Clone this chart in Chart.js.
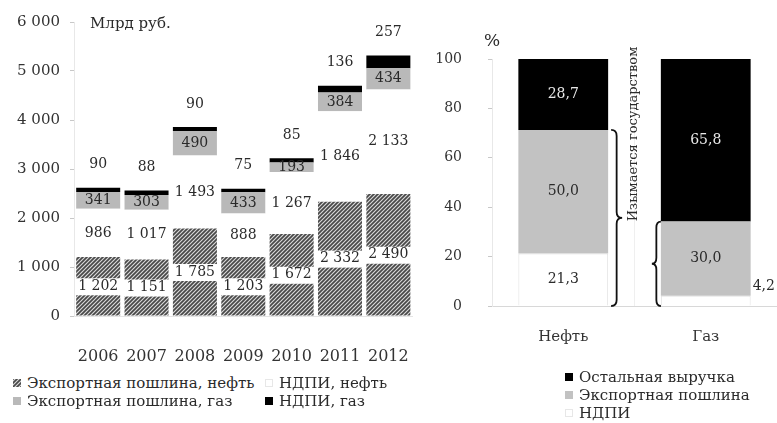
<!DOCTYPE html>
<html lang="ru">
<head>
<meta charset="utf-8">
<script src="https://cdn.jsdelivr.net/npm/chart.js@4.4.0/dist/chart.umd.min.js"></script>
<style>
  html, body { margin: 0; padding: 0; background: #fff; }
  body { width: 777px; height: 423px; position: relative; overflow: hidden;
         font-family: "DejaVu Serif", serif; color: #2a2a2a; }
  #c1, #c2 { position: absolute; display: block; }
  #c1 { left: 0; top: 0; }
  #c2 { left: 430px; top: 0; }
  .legend { position: absolute; left: 0; top: 0; font-size: 15px; line-height: 18px; white-space: nowrap; }
  .item { position: absolute; height: 18px; display: flex; align-items: center; }
  .sw { display: block; width: 8px; height: 8px; margin-right: 6px; flex: none; }
</style>
</head>
<body>
<canvas id="c1" width="432" height="366"></canvas>
<canvas id="c2" width="347" height="350"></canvas>
<div id="leg1" class="legend"></div>
<div id="leg2" class="legend"></div>
<script>
// Доходы от экспорта нефти и газа, млрд руб.
const years      = ['2006', '2007', '2008', '2009', '2010', '2011', '2012'];
const exportOil  = [1202, 1151, 1785, 1203, 1672, 2332, 2490];
const ndpiOil    = [986, 1017, 1493, 888, 1267, 1846, 2133];
const exportGas  = [341, 303, 490, 433, 193, 384, 434];
const ndpiGas    = [90, 88, 90, 75, 85, 136, 257];
const leftTicks  = [0, 1000, 2000, 3000, 4000, 5000, 6000];

// Структура выручки, %
const products    = ['Нефть', 'Газ'];
const ndpiShare   = [21.3, 4.2];
const exportShare = [50.0, 30.0];
const otherShare  = [28.7, 65.8];
const rightTicks  = [0, 20, 40, 60, 80, 100];

const FONT = '"DejaVu Serif", serif';
const TEXT = '#2a2a2a';

function fmtThousands(v) {
  return String(v).replace(/\B(?=(\d{3})+(?!\d))/g, ' ');
}
function fmtDecimal(v) {
  return v.toFixed(1).replace('.', ',');
}

// Hatch fill for export duty on oil
function makeHatchTile() {
  const t = document.createElement('canvas');
  t.width = 4; t.height = 4;
  const g = t.getContext('2d');
  g.fillStyle = '#dadada';
  g.fillRect(0, 0, 4, 4);
  g.strokeStyle = '#484848';
  g.lineWidth = 1.7;
  g.beginPath();
  g.moveTo(-1, 5); g.lineTo(5, -1);
  g.moveTo(-1, 1); g.lineTo(1, -1);
  g.moveTo(3, 5); g.lineTo(5, 3);
  g.stroke();
  return t;
}
const hatchTile = makeHatchTile();
const hatch = document.getElementById('c1').getContext('2d').createPattern(hatchTile, 'repeat');

// Segment labels drawn on top of the stacked bars
const segmentLabels = {
  id: 'segmentLabels',
  afterDatasetsDraw(chart) {
    const ctx = chart.ctx;
    ctx.save();
    ctx.textAlign = 'center';
    ctx.textBaseline = 'middle';
    chart.data.datasets.forEach((ds, di) => {
      const meta = chart.getDatasetMeta(di);
      meta.data.forEach((el, i) => {
        const v = ds.data[i];
        const txt = ds.fmt(v);
        ctx.font = ds.labelFont || ('14px ' + FONT);
        const top = Math.min(el.y, el.base), bottom = Math.max(el.y, el.base);
        const h = bottom - top;
        let x = el.x, y = (top + bottom) / 2;
        if (ds.labelMode === 'above') {
          y = top - 23;
          ctx.fillStyle = TEXT;
          ctx.fillText(txt, x, y);
          return;
        }
        if (ds.labelMode === 'inside' && h < 12) {
          ctx.textAlign = 'left';
          ctx.fillStyle = TEXT;
          ctx.fillText(txt, el.x + el.width / 2 + 2, top - 9);
          ctx.textAlign = 'center';
          return;
        }
        if (ds.labelMode === 'box') {
          const w = ctx.measureText(txt).width;
          ctx.fillStyle = '#fff';
          ctx.fillRect(x - w / 2 - 3, y - 8, w + 6, 17);
        }
        ctx.fillStyle = ds.labelColor || TEXT;
        ctx.fillText(txt, x, y);
      });
    });
    ctx.restore();
  }
};

// Unit captions
const unitCaption = {
  id: 'unitCaption',
  afterDraw(chart, args, opts) {
    const ctx = chart.ctx, a = chart.chartArea;
    ctx.save();
    ctx.font = opts.font;
    ctx.fillStyle = TEXT;
    ctx.textBaseline = 'middle';
    ctx.textAlign = opts.align;
    ctx.fillText(opts.text, a.left + opts.dx, a.top + opts.dy);
    ctx.restore();
  }
};

// Curly braces marking the share taken by the state
function brace(ctx, x0, y1, y2, w) {
  const ym = (y1 + y2) / 2, s = x0 + w / 2, r = 6;
  ctx.beginPath();
  ctx.moveTo(x0, y1);
  ctx.quadraticCurveTo(s, y1, s, y1 + r);
  ctx.lineTo(s, ym - r);
  ctx.quadraticCurveTo(s, ym, x0 + w, ym);
  ctx.quadraticCurveTo(s, ym, s, ym + r);
  ctx.lineTo(s, y2 - r);
  ctx.quadraticCurveTo(s, y2, x0, y2);
  ctx.stroke();
}
const stateShare = {
  id: 'stateShare',
  afterDraw(chart) {
    const ctx = chart.ctx;
    const ys = chart.scales.y;
    const oil = chart.getDatasetMeta(0).data[0];
    const gas = chart.getDatasetMeta(0).data[1];
    ctx.save();
    ctx.strokeStyle = '#111';
    ctx.lineWidth = 1.8;
    const oilRight = oil.x + oil.width / 2;
    brace(ctx, oilRight + 3, ys.getPixelForValue(ndpiShare[0] + exportShare[0]), ys.getPixelForValue(0), 11);
    const gasLeft = gas.x - gas.width / 2;
    brace(ctx, gasLeft, ys.getPixelForValue(ndpiShare[1] + exportShare[1]), ys.getPixelForValue(0), -9);
    // vertical caption
    ctx.translate(oilRight + 25, 134);
    ctx.rotate(-Math.PI / 2);
    ctx.font = '13px ' + FONT;
    ctx.fillStyle = TEXT;
    ctx.textAlign = 'center';
    ctx.textBaseline = 'middle';
    ctx.fillText('Изымается государством', 0, 0);
    ctx.restore();
  }
};

Chart.defaults.font.family = FONT;
Chart.defaults.color = TEXT;

new Chart(document.getElementById('c1'), {
  type: 'bar',
  data: {
    labels: years,
    datasets: [
      { label: 'Экспортная пошлина, нефть', data: exportOil, backgroundColor: hatch,
        labelMode: 'box', fmt: fmtThousands },
      { label: 'НДПИ, нефть', data: ndpiOil, backgroundColor: '#ffffff',
        labelMode: 'plain', fmt: fmtThousands },
      { label: 'Экспортная пошлина, газ', data: exportGas, backgroundColor: '#b9b9b9',
        labelMode: 'plain', fmt: fmtThousands },
      { label: 'НДПИ, газ', data: ndpiGas, backgroundColor: '#000000',
        labelMode: 'above', fmt: fmtThousands }
    ]
  },
  options: {
    responsive: false,
    animation: false,
    devicePixelRatio: 1,
    layout: { padding: { top: 22, right: 4, left: 0, bottom: 0 } },
    datasets: { bar: { barPercentage: 0.91, categoryPercentage: 1, borderWidth: 0 } },
    plugins: {
      legend: { display: false },
      tooltip: { enabled: false },
      unitCaption: { text: 'Млрд руб.', font: '15px ' + FONT, align: 'left', dx: 16, dy: 2 }
    },
    scales: {
      x: {
        stacked: true,
        grid: { display: false },
        border: { display: true, color: '#e4e4e4' },
        ticks: { font: { size: 16 }, padding: 23, color: '#333' },
        afterFit(s) { s.height = 50; }
      },
      y: {
        stacked: true,
        min: 0, max: 6000,
        afterBuildTicks(s) { s.ticks = leftTicks.map(v => ({ value: v })); },
        grid: { drawOnChartArea: false, drawTicks: true, tickLength: 4, tickColor: '#c8c8c8' },
        border: { display: true, color: '#e8e8e8' },
        ticks: { font: { size: 15 }, padding: 10, color: '#333', callback: v => fmtThousands(v) },
        afterFit(s) { s.width = 74; }
      }
    }
  },
  plugins: [segmentLabels, unitCaption]
});

new Chart(document.getElementById('c2'), {
  type: 'bar',
  data: {
    labels: products,
    datasets: [
      { label: 'НДПИ', data: ndpiShare, backgroundColor: '#ffffff', borderColor: '#e2e2e2', borderWidth: 1,
        labelMode: 'inside', fmt: fmtDecimal },
      { label: 'Экспортная пошлина', data: exportShare, backgroundColor: '#c2c2c2',
        labelMode: 'inside', fmt: fmtDecimal },
      { label: 'Остальная выручка', data: otherShare, backgroundColor: '#000000',
        labelMode: 'inside', labelColor: '#e8e8e8', fmt: fmtDecimal }
    ]
  },
  options: {
    responsive: false,
    animation: false,
    devicePixelRatio: 1,
    layout: { padding: { top: 59, right: 0, left: 0, bottom: 0 } },
    datasets: { bar: { barPercentage: 0.63, categoryPercentage: 1 } },
    plugins: {
      legend: { display: false },
      tooltip: { enabled: false },
      unitCaption: { text: '%', font: '17px ' + FONT, align: 'center', dx: 0, dy: -17 }
    },
    scales: {
      x: {
        stacked: true,
        grid: { display: true, drawTicks: false, color: '#efefef' },
        border: { display: true, color: '#d8d8d8' },
        ticks: { font: { size: 15 }, padding: 22, color: '#333' },
        afterFit(s) { s.height = 44; }
      },
      y: {
        stacked: true,
        min: 0, max: 100,
        afterBuildTicks(s) { s.ticks = rightTicks.map(v => ({ value: v })); },
        grid: { drawOnChartArea: false, drawTicks: true, tickLength: 4, tickColor: '#c8c8c8' },
        border: { display: true, color: '#e8e8e8' },
        ticks: { font: { size: 14 }, padding: 26, color: '#333' },
        afterFit(s) { s.width = 62; }
      }
    }
  },
  plugins: [segmentLabels, unitCaption, stateShare]
});

// Legends
function swatch(fill) {
  const c = document.createElement('canvas');
  c.width = 8; c.height = 8;
  c.className = 'sw';
  const g = c.getContext('2d');
  if (fill === 'hatch') {
    g.fillStyle = g.createPattern(hatchTile, 'repeat');
    g.fillRect(0, 0, 8, 8);
  } else if (fill === '#ffffff') {
    g.fillStyle = '#fff';
    g.fillRect(0, 0, 8, 8);
    g.strokeStyle = '#cfcfcf';
    g.setLineDash([1, 1]);
    g.strokeRect(0.5, 0.5, 7, 7);
  } else {
    g.fillStyle = fill;
    g.fillRect(0, 0, 8, 8);
  }
  return c;
}
function addItem(host, left, top, fill, text) {
  const d = document.createElement('div');
  d.className = 'item';
  d.style.left = left + 'px';
  d.style.top = top + 'px';
  d.appendChild(swatch(fill));
  const s = document.createElement('span');
  s.textContent = text;
  d.appendChild(s);
  host.appendChild(d);
}
const leg1 = document.getElementById('leg1');
addItem(leg1, 13, 374, 'hatch', 'Экспортная пошлина, нефть');
addItem(leg1, 265, 374, '#ffffff', 'НДПИ, нефть');
addItem(leg1, 13, 392, '#b9b9b9', 'Экспортная пошлина, газ');
addItem(leg1, 265, 392, '#000000', 'НДПИ, газ');
const leg2 = document.getElementById('leg2');
addItem(leg2, 565, 368, '#000000', 'Остальная выручка');
addItem(leg2, 565, 386, '#c2c2c2', 'Экспортная пошлина');
addItem(leg2, 565, 404, '#ffffff', 'НДПИ');
</script>
</body>
</html>
